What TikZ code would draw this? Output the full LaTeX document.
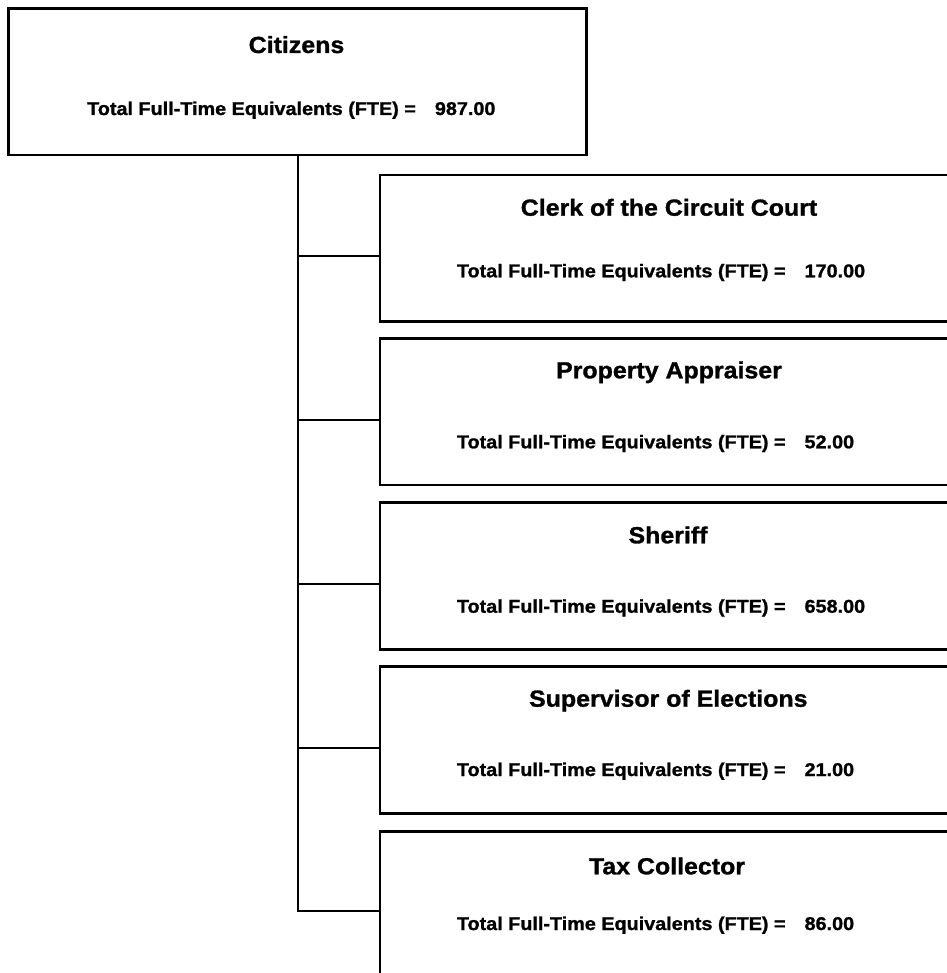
\documentclass[tikz,border=0pt]{standalone}
\usepackage{fontspec}
\setmainfont{Liberation Sans}[FakeStretch=1.07,BoldFeatures={FakeBold=1.2}]
\begin{document}
\begin{tikzpicture}[x=1pt,y=1pt,
  box/.style={draw=black,line width=2.5pt,rectangle,inner sep=0pt,minimum width=578pt,minimum height=146.7pt},
  ttl/.style={anchor=base,inner sep=0pt,font=\fontsize{23.3}{26}\selectfont\bfseries},
  fte/.style={anchor=base west,inner sep=0pt,font=\fontsize{18.5}{22}\selectfont\bfseries},
  link/.style={draw=black,line width=2.1pt}]
\useasboundingbox (0,0) rectangle (946,-973);
% boxes
\node[box,minimum width=578.4pt] (cit) at (297.5,-81.65) {};
\node[box] (c1) at (669,-248.2) {};
\node[box] (c2) at (669,-411.7) {};
\node[box] (c3) at (669,-576.0) {};
\node[box] (c4) at (669,-740.0) {};
\node[box] (c5) at (669,-905.0) {};
% texts
\node[ttl] (t0) at (296.5,-53) {Citizens};
\node[fte] (f0) at (87,-115) {Total Full-Time Equivalents (FTE) =\hspace{19pt}987.00};
\node[ttl] (t1) at (669,-215.7) {Clerk of the Circuit Court};
\node[fte] (f1) at (456.7,-277.3) {Total Full-Time Equivalents (FTE) =\hspace{19pt}170.00};
\node[ttl] (t2) at (669,-378.3) {Property Appraiser};
\node[fte] (f2) at (456.7,-448.3) {Total Full-Time Equivalents (FTE) =\hspace{19pt}52.00};
\node[ttl] (t3) at (668,-543.3) {Sheriff};
\node[fte] (f3) at (456.7,-612.7) {Total Full-Time Equivalents (FTE) =\hspace{19pt}658.00};
\node[ttl] (t4) at (668.3,-706.7) {Supervisor of Elections};
\node[fte] (f4) at (456.7,-776) {Total Full-Time Equivalents (FTE) =\hspace{19pt}21.00};
\node[ttl] (t5) at (667,-874.3) {Tax Collector};
\node[fte] (f5) at (456.7,-930) {Total Full-Time Equivalents (FTE) =\hspace{19pt}86.00};
% connectors
\coordinate (e1) at ([yshift=-7.8pt]c1.west);
\coordinate (e2) at ([yshift=-8.3pt]c2.west);
\coordinate (e3) at ([yshift=-8pt]c3.west);
\coordinate (e4) at ([yshift=-8pt]c4.west);
\coordinate (e5) at ([yshift=-6pt]c5.west);
\draw[link] ([xshift=0.2pt]cit.south) |- (e5);
\draw[link] (e1 -| cit.south) -- (e1);
\draw[link] (e2 -| cit.south) -- (e2);
\draw[link] (e3 -| cit.south) -- (e3);
\draw[link] (e4 -| cit.south) -- (e4);
\end{tikzpicture}
\end{document}
